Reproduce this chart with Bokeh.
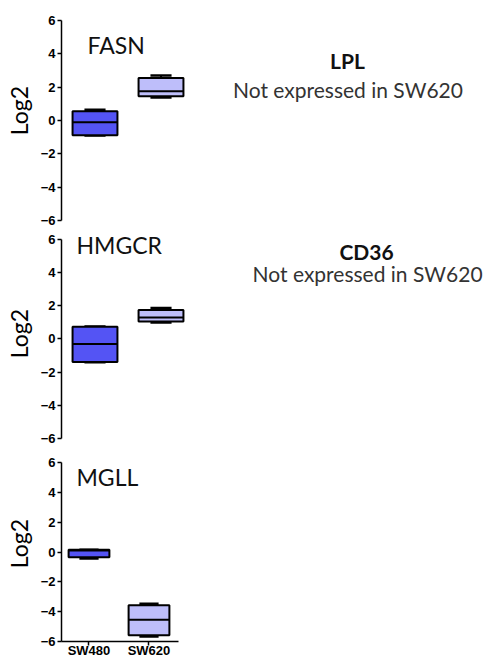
from bokeh.plotting import figure
from bokeh.layouts import column
from bokeh.models import Range1d, ColumnDataSource, FixedTicker, Label
from bokeh.embed import file_html
from bokeh.resources import INLINE

# ---- data ----
groups = ["SW480", "SW620"]
group_pos = [1, 2]
yticks = [-6, -4, -2, 0, 2, 4, 6]

fasn_min = [-0.90, 1.38]
fasn_q1 = [-0.88, 1.45]
fasn_med = [-0.10, 1.75]
fasn_q3 = [0.55, 2.55]
fasn_max = [0.65, 2.70]

hmgcr_min = [-1.40, 1.00]
hmgcr_q1 = [-1.38, 1.05]
hmgcr_med = [-0.30, 1.30]
hmgcr_q3 = [0.74, 1.75]
hmgcr_max = [0.76, 1.87]

mgll_min = [-0.43, -5.67]
mgll_q1 = [-0.34, -5.58]
mgll_med = [0.10, -4.54]
mgll_q3 = [0.16, -3.57]
mgll_max = [0.16, -3.46]

not_expressed = ["LPL", "CD36"]
note_text = "Not expressed in SW620"

fill_colors = ["#5454F4", "#BEBEFA"]
BOX_W = 0.68
CAP_W = 0.32
W = 483
LEFT = 61


def panel(gene, mn, q1, med, q3, mx, height, top_px, ppy, bottom, x0, ppu,
          xaxis=False, note=None):
    frame_w = W - LEFT
    x1 = x0 + frame_w / ppu
    ymax = 6 + top_px / ppy
    p = figure(width=W, height=height, output_backend="svg", toolbar_location=None,
               x_range=Range1d(x0, x1), y_range=Range1d(-6, ymax),
               x_axis_location="below" if xaxis else None,
               min_border_left=LEFT, min_border_right=0,
               min_border_top=0, min_border_bottom=bottom)
    p.outline_line_color = None
    p.grid.visible = False
    p.background_fill_color = "white"

    src = ColumnDataSource(dict(x=group_pos, mn=mn, q1=q1, med=med, q3=q3, mx=mx,
                                c=fill_colors,
                                l=[g - BOX_W / 2 for g in group_pos],
                                r=[g + BOX_W / 2 for g in group_pos],
                                cl=[g - CAP_W / 2 for g in group_pos],
                                cr=[g + CAP_W / 2 for g in group_pos]))
    p.segment(x0="x", y0="q3", x1="x", y1="mx", source=src, line_color="black", line_width=2)
    p.segment(x0="x", y0="mn", x1="x", y1="q1", source=src, line_color="black", line_width=2)
    p.segment(x0="cl", y0="mx", x1="cr", y1="mx", source=src, line_color="black", line_width=2.5)
    p.segment(x0="cl", y0="mn", x1="cr", y1="mn", source=src, line_color="black", line_width=2.5)
    p.vbar(x="x", width=BOX_W, bottom="q1", top="q3", source=src, fill_color="c",
           line_color="black", line_width=2)
    p.segment(x0="l", y0="med", x1="r", y1="med", source=src, line_color="black", line_width=2)

    yax = p.yaxis[0]
    yax.ticker = FixedTicker(ticks=yticks)
    yax.bounds = (-6, 6)
    yax.minor_tick_line_color = None
    yax.major_tick_in = 0
    yax.major_tick_out = 4
    yax.major_tick_line_width = 1.5
    yax.axis_line_width = 1.5
    yax.axis_line_color = "black"
    yax.major_tick_line_color = "black"
    yax.major_label_text_font = "Liberation Sans"
    yax.major_label_text_font_style = "bold"
    yax.major_label_text_font_size = "13px"
    yax.major_label_text_color = "black"
    yax.major_label_standoff = 2
    yax.axis_label = "Log2"
    yax.axis_label_text_font = "Lato"
    yax.axis_label_text_font_style = "normal"
    yax.axis_label_text_font_size = "23px"
    yax.axis_label_text_color = "black"
    yax.axis_label_standoff = 5

    if xaxis:
        xax = p.xaxis[0]
        xax.ticker = FixedTicker(ticks=group_pos)
        xax.major_label_overrides = {g: n for g, n in zip(group_pos, groups)}
        xax.bounds = (x0, 2.49)
        xax.minor_tick_line_color = None
        xax.major_tick_in = 0
        xax.major_tick_out = 4
        xax.major_tick_line_width = 1.5
        xax.axis_line_width = 1.5
        xax.axis_line_color = "black"
        xax.major_label_text_font = "Liberation Sans"
        xax.major_label_text_font_style = "bold"
        xax.major_label_text_font_size = "13px"
        xax.major_label_text_color = "black"
        xax.major_label_standoff = -3

    p.add_layout(Label(x=x0 + gene[2] / ppu, y=gene[1], text=gene[0], text_font="Lato",
                       text_font_size="23px", text_color="#111111", text_align="left",
                       text_baseline="middle"))
    if note is not None:
        p.add_layout(Label(x=note[0], y=note[1], text=note[2], text_font="Lato",
                           text_font_style="bold", text_font_size="21px",
                           text_color="#111111", text_align="center",
                           text_baseline="middle"))
        p.add_layout(Label(x=note[3], y=note[4], text=note_text, text_font="Lato",
                           text_font_size="21px", text_color="#333333",
                           text_align="center", text_baseline="middle"))
    return p


p1 = panel(("FASN", 4.5, 26), fasn_min, fasn_q1, fasn_med, fasn_q3, fasn_max,
           height=228, top_px=20, ppy=16.67, bottom=8, x0=0.4924, ppu=66,
           note=(4.826, 3.6, not_expressed[0], 4.833, 1.86))
p2 = panel(("HMGCR", 5.66, 15), hmgcr_min, hmgcr_q1, hmgcr_med, hmgcr_q3, hmgcr_max,
           height=217, top_px=11, ppy=16.6, bottom=7, x0=0.4924, ppu=66,
           note=(5.114, 5.3, not_expressed[1], 5.13, 3.92))
p3 = panel(("MGLL", 5.04, 15), mgll_min, mgll_q1, mgll_med, mgll_q3, mgll_max,
           height=215, top_px=17, ppy=14.75, bottom=19, x0=0.5417, ppu=60, xaxis=True)

layout = column(p1, p2, p3, spacing=0)
open("out.html", "w").write(file_html(layout, INLINE))
